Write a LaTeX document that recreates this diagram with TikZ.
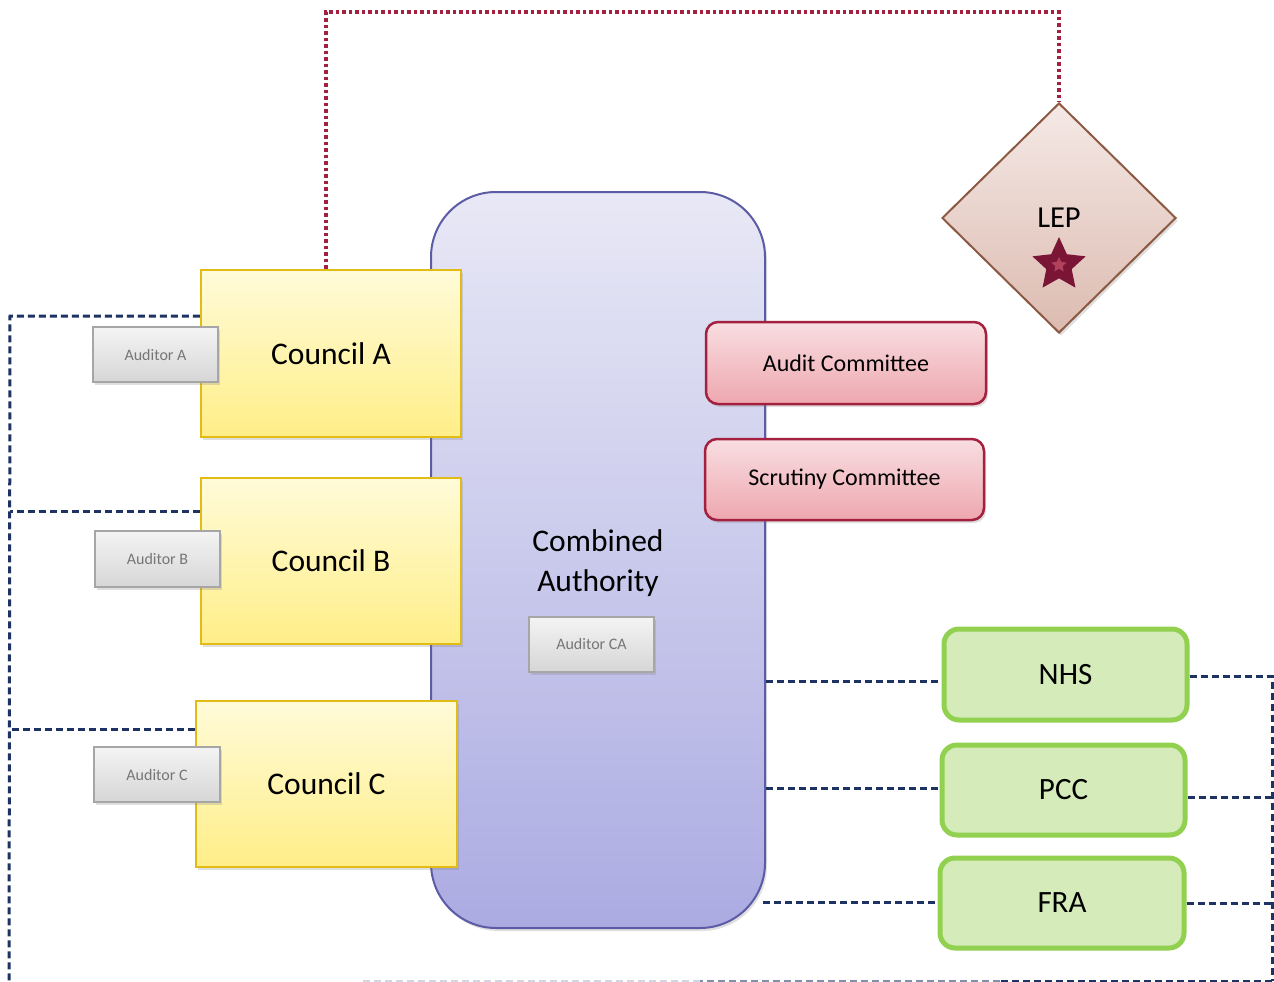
\documentclass[tikz,border=0pt]{standalone}
\usepackage{fontspec}
\setmainfont{Carlito}
\usetikzlibrary{shapes.geometric,shadows}
\definecolor{navy}{HTML}{1F3264}
\definecolor{wine}{HTML}{A3203F}
\definecolor{caTop}{HTML}{E8E8F6}
\definecolor{caBot}{HTML}{ABABE2}
\definecolor{caLine}{HTML}{5B5BA6}
\definecolor{cTop}{HTML}{FFFBD8}
\definecolor{cBot}{HTML}{FFEE88}
\definecolor{cLine}{HTML}{E2BC14}
\definecolor{aTop}{HTML}{F4F4F4}
\definecolor{aBot}{HTML}{D6D6D6}
\definecolor{aLine}{HTML}{A6A6A6}
\definecolor{aText}{HTML}{767676}
\definecolor{mTop}{HTML}{F8DEE1}
\definecolor{mBot}{HTML}{EEA7AF}
\definecolor{gFill}{HTML}{D5EBBA}
\definecolor{gLine}{HTML}{92D050}
\definecolor{lTop}{HTML}{F5E9E6}
\definecolor{lBot}{HTML}{DCBBB0}
\definecolor{lLine}{HTML}{8C5A43}
\definecolor{starc}{HTML}{7A1535}
\tikzset{
  softshadow/.style={drop shadow={opacity=0.25, shadow xshift=2pt, shadow yshift=-3pt}},
  authority/.style={draw=caLine, line width=2pt, top color=caTop, bottom color=caBot,
    rounded corners=65pt, minimum width=334pt, minimum height=736pt, inner sep=0pt, softshadow},
  council/.style={draw=cLine, line width=2.5pt, top color=cTop, bottom color=cBot,
    minimum width=260pt, minimum height=166pt, inner sep=0pt, font=\fontsize{31.5}{36}\selectfont, softshadow},
  auditorbox/.style={draw=aLine, line width=2pt, top color=aTop, bottom color=aBot,
    minimum width=125pt, minimum height=55pt, inner sep=0pt, text=aText,
    font=\fontsize{16}{18}\selectfont, softshadow},
  committee/.style={draw=wine, line width=2.5pt, top color=mTop, bottom color=mBot,
    rounded corners=12pt, minimum width=280pt, minimum height=82pt, inner sep=0pt,
    font=\fontsize{24}{28}\selectfont, softshadow},
  agency/.style={draw=gLine, fill=gFill, line width=5pt, rounded corners=15pt,
    minimum width=243pt, minimum height=90pt, inner sep=0pt, font=\fontsize{31}{36}\selectfont},
  blueline/.style={draw=navy, line width=3pt, dash pattern=on 7pt off 4pt},
  redline/.style={draw=wine, line width=3.5pt, dash pattern=on 3.5pt off 3pt},
}
\begin{document}
\begin{tikzpicture}[x=1pt,y=-1pt]
\useasboundingbox (0,0) rectangle (1274,982);

% coordinates for connector corners and free ends
\coordinate (r1) at (326,12);
\coordinate (r2) at (1059,12);
\coordinate (la) at (10,316);
\coordinate (lb) at (10,511);
\coordinate (lc) at (10,729);
\coordinate (lbot) at (9,984);
\coordinate (cn) at (0,681);
\coordinate (cp) at (0,788);
\coordinate (cf) at (0,902);
\coordinate (rn) at (1272,676);
\coordinate (rp) at (1272,797);
\coordinate (rf) at (1272,903);
\coordinate (rbot) at (1272,981);
\coordinate (bm1) at (1000,981);
\coordinate (bm2) at (700,981);
\coordinate (bm3) at (360,981);

% Combined Authority
\node[authority] (ca) at (598,560) {};
\node[font=\fontsize{31.5}{40}\selectfont, align=center, inner sep=0pt] (catext) at (598,563) {Combined\\Authority};
\node[auditorbox] (audca) at (591.5,644) {Auditor CA};

% Councils
\node[council, minimum height=167pt] (cA) at (331,353.5) {Council A};
\node[council] (cB) at (331,561) {Council B};
\node[council, minimum width=261pt] (cC) at (326.5,784) {Council C};

% Auditors
\node[auditorbox] (audA) at (155.5,354.5) {Auditor A};
\node[auditorbox, minimum height=56pt] (audB) at (157.5,559) {Auditor B};
\node[auditorbox, minimum width=126pt] (audC) at (157,774.5) {Auditor C};

% Committees
\node[committee] (audit) at (846,363) {Audit Committee};
\node[committee, minimum width=279pt, minimum height=81pt] (scrutiny) at (844.5,479.5) {Scrutiny Committee};

% Agencies
\node[agency, minimum height=91pt] (nhs) at (1065.5,674.5) {NHS};
\node[agency] (pcc) at (1063.5,790) {PCC};
\node[agency, minimum width=244pt] (fra) at (1062,903) {FRA};

% LEP
\node[diamond, draw=lLine, line width=2pt, top color=lTop, bottom color=lBot,
  minimum width=234pt, minimum height=230pt, inner sep=0pt, softshadow] (lep) at (1059,218) {};
\node[font=\fontsize{30.5}{34}\selectfont, inner sep=0pt] (leptext) at (1059,218) {LEP};
\node[star, star points=5, star point ratio=2.1, fill=starc, minimum size=56pt, inner sep=0pt] (lepstar) at (1059,265) {};
\node[star, star points=5, star point ratio=2.1, fill=wine!85!white, minimum size=16pt, inner sep=0pt] (lepstarin) at (1059,265) {};

% red dotted link
\draw[redline] (cA.north -| r1) -- (r1) -- (r2) -- (lep.north);

% left auditor links
\draw[blueline] (cA.west |- la) -- (la) -- (lbot);
\draw[blueline] (cB.west |- lb) -- (lb);
\draw[blueline] (cC.west |- lc) -- (lc);

% right links
\draw[blueline] (ca.east |- cn) -- (nhs.west |- cn);
\draw[blueline] (ca.east |- cp) -- (pcc.west |- cp);
\draw[blueline] ([xshift=-3pt]ca.east |- cf) -- (fra.west |- cf);
\draw[blueline] (nhs.east |- rn) -- (rn) -- (rbot);
\draw[blueline] (pcc.east |- rp) -- (rp);
\draw[blueline] (fra.east |- rf) -- (rf);

% bottom line (fading)
\draw[blueline] (rbot) -- (bm1);
\draw[blueline, draw=navy!55!white] (bm1) -- (bm2);
\draw[blueline, draw=navy!20!white] (bm2) -- (bm3);
\end{tikzpicture}
\end{document}
